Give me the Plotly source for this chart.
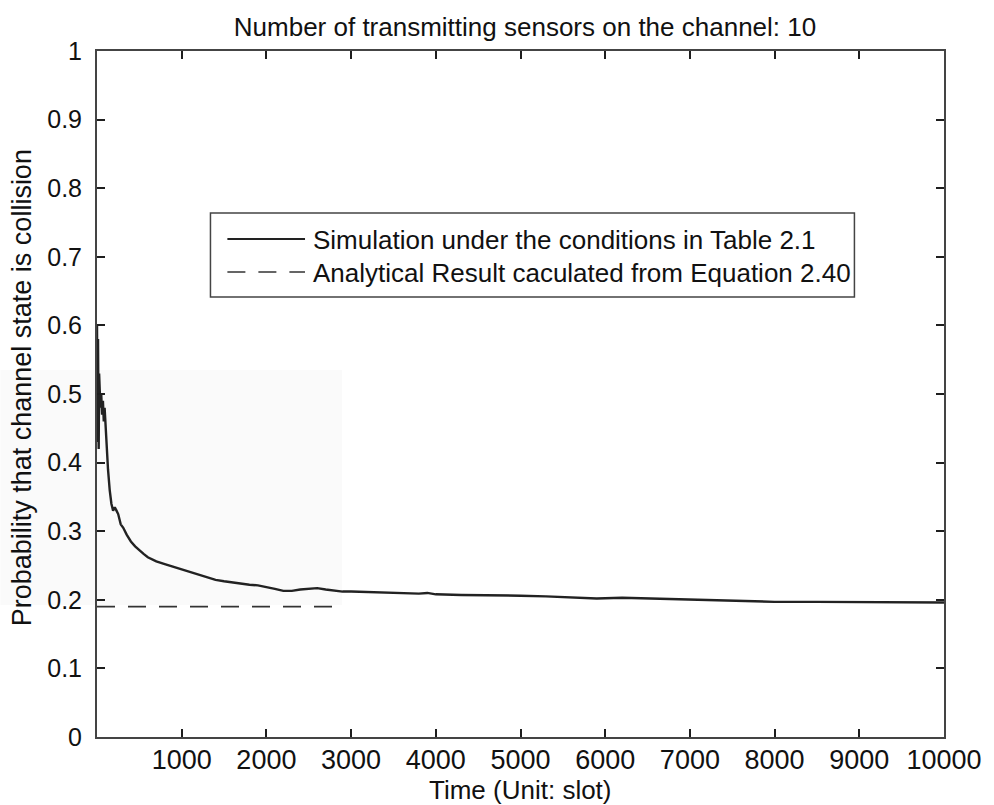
import plotly.graph_objects as go

# Simulated collision probability over time (slots)
sim_time = [0, 4, 8, 12, 16, 20, 25, 30, 35, 40, 50, 60, 70, 80, 90, 100, 110,
            130, 150, 170, 190, 210, 230, 250, 280, 310, 350, 400, 450, 500,
            550, 600, 700, 800, 900, 1000, 1100, 1200, 1300, 1400, 1500, 1600,
            1700, 1800, 1900, 2000, 2100, 2200, 2300, 2400, 2500, 2600, 2700,
            2800, 2900, 3000, 3200, 3400, 3600, 3800, 3900, 4000, 4300, 4600,
            5000, 5300, 5600, 5900, 6200, 6500, 7000, 7500, 7800, 8000, 8500,
            9000, 9500, 10000]
sim_prob = [0.60, 0.53, 0.43, 0.58, 0.50, 0.42, 0.53, 0.49, 0.51, 0.48, 0.50,
            0.47, 0.49, 0.46, 0.48, 0.455, 0.44,
            0.39, 0.36, 0.34, 0.33, 0.335, 0.33, 0.325, 0.31, 0.305, 0.295,
            0.285, 0.278, 0.272, 0.267, 0.262, 0.256, 0.252, 0.248, 0.244,
            0.240, 0.236, 0.232, 0.229, 0.227, 0.225, 0.224, 0.222, 0.221,
            0.219, 0.216, 0.213, 0.213, 0.215, 0.216, 0.217, 0.215, 0.213,
            0.212, 0.212, 0.211, 0.210, 0.209, 0.209, 0.210, 0.208, 0.207,
            0.207, 0.206, 0.205, 0.204, 0.202, 0.203, 0.202, 0.200, 0.199,
            0.197, 0.197, 0.197, 0.197, 0.196, 0.196]

# Analytical result (Equation 2.40)
ana_time = [0, 2890]
ana_prob = [0.19, 0.19]

x_ticks = [1000, 2000, 3000, 4000, 5000, 6000, 7000, 8000, 9000, 10000]
x_labels = ["1000", "2000", "3000", "4000", "5000", "6000", "7000", "8000",
            "9000", "10000"]
y_ticks = [0, 0.1, 0.2, 0.3, 0.4, 0.5, 0.6, 0.7, 0.8, 0.9, 1]
y_labels = ["0", "0.1", "0.2", "0.3", "0.4", "0.5", "0.6", "0.7", "0.8", "0.9", "1"]

legend_labels = ["Simulation under the conditions in Table 2.1",
                 "Analytical Result caculated from Equation 2.40"]

FONT = "Liberation Sans, Arial, Helvetica, sans-serif"
INK = "#1e1e1e"
TXT = "#111111"

fig = go.Figure()

fig.add_trace(go.Scatter(x=sim_time, y=sim_prob, mode="lines",
                         line=dict(color="#222222", width=2.4),
                         showlegend=False))
fig.add_trace(go.Scatter(x=ana_time, y=ana_prob, mode="lines",
                         line=dict(color="#333333", width=1.6, dash="18px,13px"),
                         showlegend=False))

axis_common = dict(
    showgrid=False, zeroline=False, mirror="ticks",
    ticks="inside", ticklen=8, tickwidth=1.5, tickcolor=INK,
    showline=True, linecolor="#444444", linewidth=2,
)

W, H = 994, 805
L, R, T, B = 97, 46, 51, 68
pw, ph = W - L - R, H - T - B


def px(xp):
    return (xp - L) / pw


def py(yp):
    return (H - B - yp) / ph


shapes = [
    # faint shaded patch
    dict(type="rect", xref="paper", yref="paper", x0=px(0), x1=px(343),
         y0=py(605), y1=py(370), fillcolor="#fafafa", line=dict(width=0),
         layer="below"),
    # legend box
    dict(type="rect", xref="paper", yref="paper", x0=px(211), x1=px(858),
         y0=py(297), y1=py(213), fillcolor="white",
         line=dict(color="#444444", width=1.5)),
    dict(type="line", xref="paper", yref="paper", x0=px(228), x1=px(306),
         y0=py(239), y1=py(239), line=dict(color="#222222", width=2)),
    dict(type="line", xref="paper", yref="paper", x0=px(228), x1=px(306),
         y0=py(272), y1=py(272),
         line=dict(color="#333333", width=1.6, dash="18px,13px")),
]

annotations = [
    dict(text=legend_labels[0], xref="paper", yref="paper", x=px(312),
         y=py(240), xanchor="left", yanchor="middle", showarrow=False,
         font=dict(family=FONT, size=26, color=TXT)),
    dict(text=legend_labels[1], xref="paper", yref="paper", x=px(312),
         y=py(273), xanchor="left", yanchor="middle", showarrow=False,
         font=dict(family=FONT, size=26, color=TXT)),
    # axis titles
    dict(text="Time (Unit: slot)", xref="paper", yref="paper", x=px(522),
         y=py(790), xanchor="center", yanchor="middle", showarrow=False,
         font=dict(family=FONT, size=26, color=TXT)),
    dict(text="Probability that channel state is collision", xref="paper",
         yref="paper", x=px(22), y=py(388), xanchor="center",
         yanchor="middle", textangle=-90, showarrow=False,
         font=dict(family=FONT, size=27, color=TXT)),
]

fig.update_layout(
    width=W, height=H,
    margin=dict(l=L, r=R, t=T, b=B),
    paper_bgcolor="white", plot_bgcolor="white",
    title=dict(text="Number of transmitting sensors on the channel: 10",
               xref="container", x=525 / W, xanchor="center",
               yref="container", y=1 - 27 / H, yanchor="middle",
               font=dict(family=FONT, size=26, color=TXT)),
    xaxis=dict(range=[0, 10000], tickvals=x_ticks, ticktext=x_labels,
               ticklabelstandoff=-2,
               tickfont=dict(family=FONT, size=27, color=TXT),
               **axis_common),
    yaxis=dict(range=[0, 1], tickvals=y_ticks, ticktext=y_labels,
               ticklabelstandoff=8,
               tickfont=dict(family=FONT, size=25, color=TXT),
               **axis_common),
    shapes=shapes,
    annotations=annotations,
    showlegend=False,
)

fig.write_html("out.html")
